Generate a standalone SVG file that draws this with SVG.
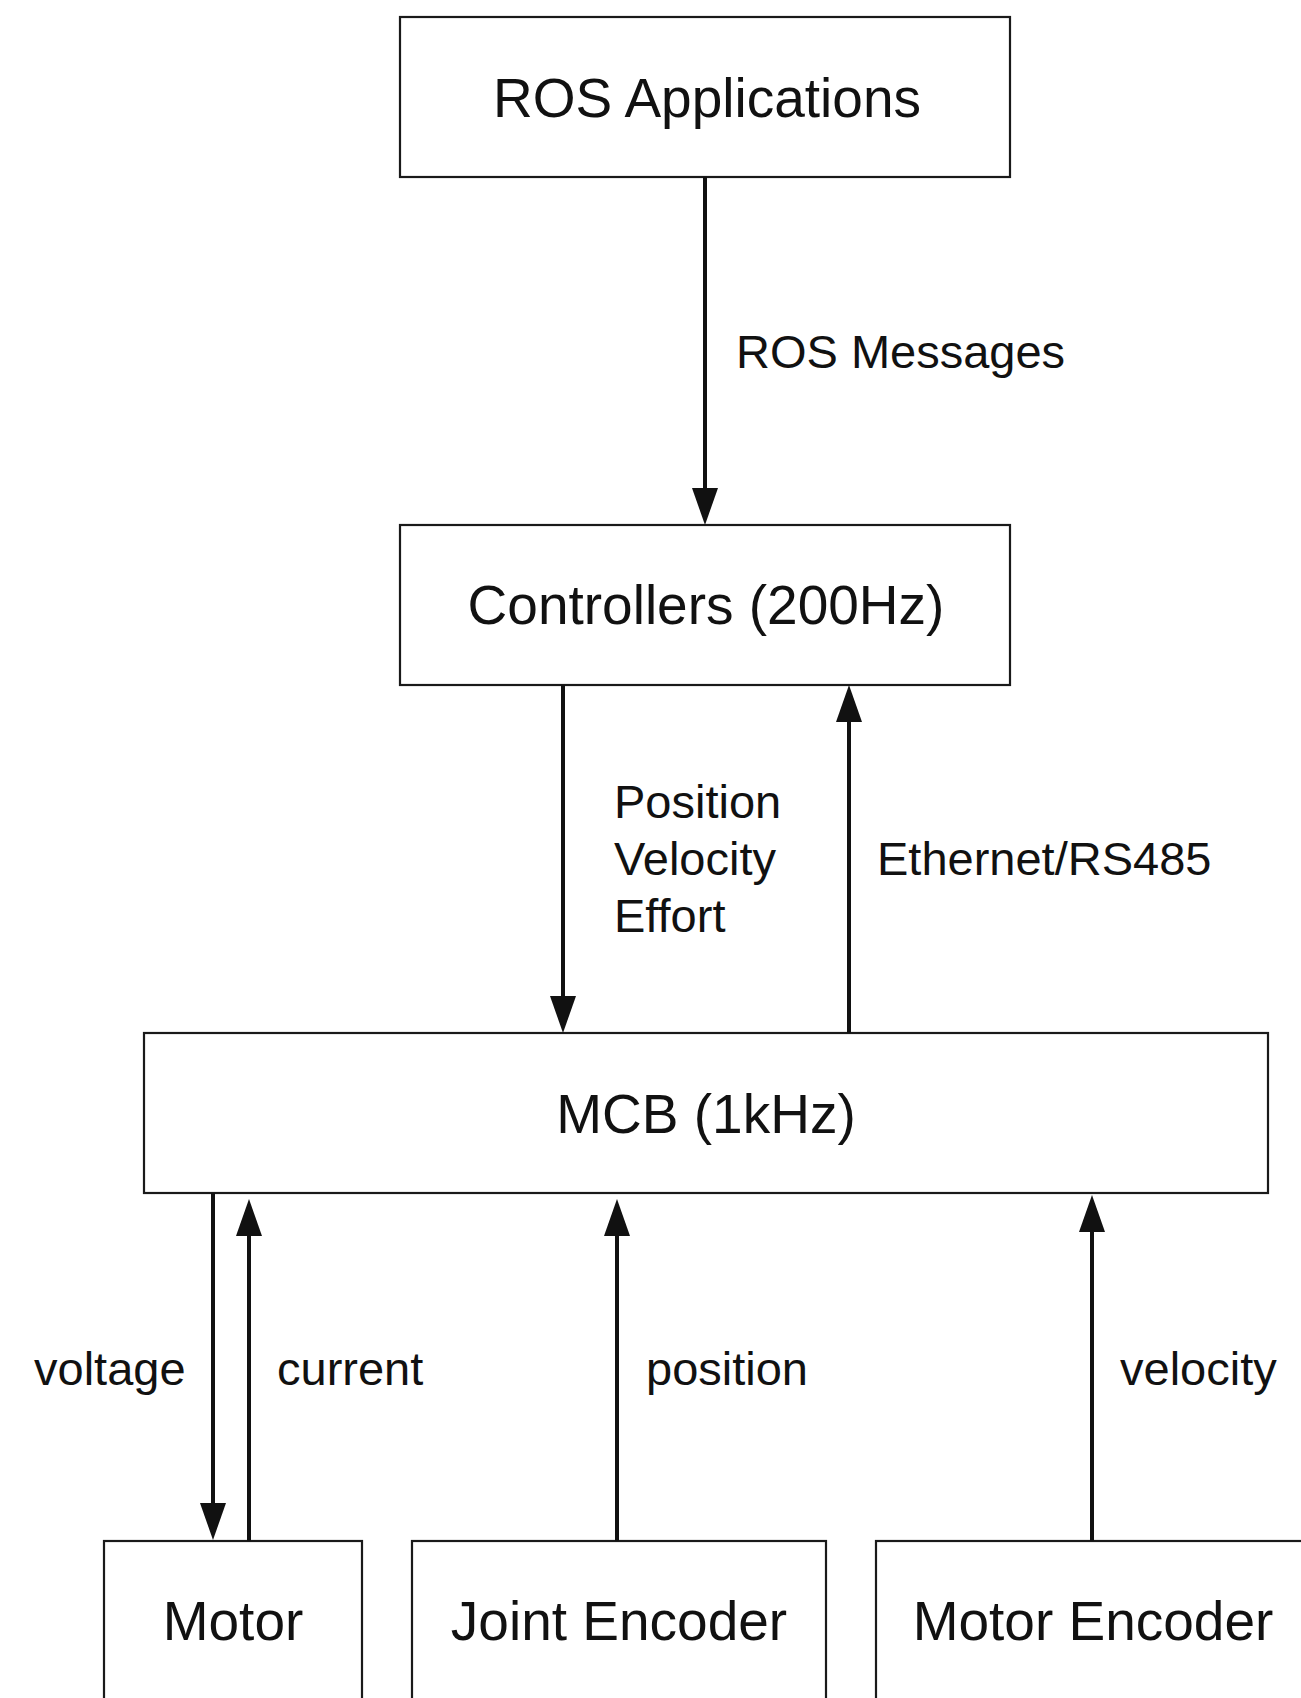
<svg xmlns="http://www.w3.org/2000/svg" width="1301" height="1698" viewBox="0 0 1301 1698">
<style>
.box{fill:#ffffff;stroke:#1a1a1a;stroke-width:2.2}
.title{font-family:"Liberation Sans",Arial,sans-serif;font-size:55px;fill:#111;text-anchor:middle}
.lbl{font-family:"Liberation Sans",Arial,sans-serif;font-size:47px;fill:#111}
.conn{stroke:#111;stroke-width:4;fill:none}
</style>
<defs>
<marker id="ah" markerUnits="userSpaceOnUse" markerWidth="38" markerHeight="26" refX="2" refY="13" orient="auto">
<path d="M0,0 L37,13 L0,26 z" fill="#111"/>
</marker>
</defs>
<rect width="1301" height="1698" fill="#ffffff"/>
<g id="ros-applications">
<rect class="box" x="400" y="17" width="610" height="160"/>
<text class="title" x="707" y="117">ROS Applications</text>
</g>
<g id="controllers">
<rect class="box" x="400" y="525" width="610" height="160"/>
<text class="title" x="706" y="624">Controllers (200Hz)</text>
</g>
<g id="mcb">
<rect class="box" x="144" y="1033" width="1124" height="160"/>
<text class="title" x="706" y="1133">MCB (1kHz)</text>
</g>
<g id="motor">
<rect class="box" x="104" y="1541" width="258" height="200"/>
<text class="title" x="233" y="1640">Motor</text>
</g>
<g id="joint-encoder">
<rect class="box" x="412" y="1541" width="414" height="200"/>
<text class="title" x="619" y="1640">Joint Encoder</text>
</g>
<g id="motor-encoder">
<rect class="box" x="876" y="1541" width="500" height="200"/>
<text class="title" x="1093" y="1640">Motor Encoder</text>
</g>
<g id="connectors">
<path class="conn" d="M705,177 V490" marker-end="url(#ah)"/>
<path class="conn" d="M563,685 V998" marker-end="url(#ah)"/>
<path class="conn" d="M849,1033 V720" marker-end="url(#ah)"/>
<path class="conn" d="M213,1193 V1505" marker-end="url(#ah)"/>
<path class="conn" d="M249,1541 V1234" marker-end="url(#ah)"/>
<path class="conn" d="M617,1541 V1234" marker-end="url(#ah)"/>
<path class="conn" d="M1092,1541 V1230" marker-end="url(#ah)"/>
<text class="lbl" x="736" y="368">ROS Messages</text>
<text class="lbl" x="614" y="818">Position</text>
<text class="lbl" x="614" y="875">Velocity</text>
<text class="lbl" x="614" y="932">Effort</text>
<text class="lbl" x="877" y="875">Ethernet/RS485</text>
<text class="lbl" x="34" y="1385">voltage</text>
<text class="lbl" x="277" y="1385">current</text>
<text class="lbl" x="646" y="1385">position</text>
<text class="lbl" x="1120" y="1385">velocity</text>
</g>
</svg>
